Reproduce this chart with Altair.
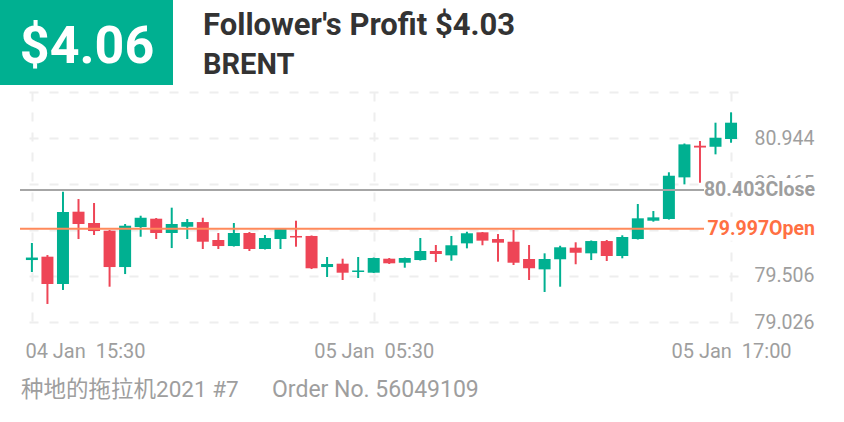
import altair as alt
import pandas as pd

# ---- data ----
idx = list(range(46))
opens = [79.672, 79.707, 79.422, 80.176, 80.058, 79.978, 79.599, 80.016, 80.103, 79.954,
         80.019, 80.068, 79.881, 79.818, 79.954, 79.787, 79.891, 79.923, 79.923, 79.599,
         79.634, 79.547, 79.540, 79.686, 79.644, 79.672, 79.766, 79.721, 79.846, 79.961,
         79.891, 79.863, 79.683, 79.575, 79.680, 79.801, 79.742, 79.870, 79.714, 79.891,
         80.082, 80.100, 80.534, 80.864, 80.853, 80.934]
highs = [79.850, 79.724, 80.384, 80.308, 80.267, 79.985, 80.048, 80.134, 80.110, 80.218,
         80.100, 80.113, 79.954, 80.058, 79.964, 79.933, 80.000, 80.082, 79.928, 79.704,
         79.686, 79.704, 79.698, 79.693, 79.698, 79.902, 79.829, 79.923, 79.967, 79.964,
         79.943, 79.985, 79.829, 79.742, 79.821, 79.857, 79.876, 79.881, 79.930, 80.256,
         80.183, 80.587, 80.887, 80.913, 81.104, 81.212]
lows = [79.547, 79.214, 79.360, 79.891, 79.933, 79.394, 79.526, 79.915, 79.891, 79.797,
        79.891, 79.787, 79.787, 79.813, 79.766, 79.782, 79.787, 79.811, 79.578, 79.495,
        79.464, 79.485, 79.537, 79.631, 79.592, 79.667, 79.651, 79.665, 79.794, 79.826,
        79.655, 79.620, 79.464, 79.339, 79.394, 79.628, 79.672, 79.662, 79.690, 79.886,
        80.072, 80.094, 80.461, 80.478, 80.774, 80.895]
closes = [79.698, 79.422, 80.173, 80.048, 79.975, 79.599, 80.030, 80.113, 79.954, 80.048,
          80.068, 79.863, 79.818, 79.954, 79.787, 79.902, 79.995, 79.907, 79.586, 79.631,
          79.540, 79.563, 79.693, 79.638, 79.693, 79.766, 79.735, 79.826, 79.951, 79.874,
          79.853, 79.644, 79.586, 79.683, 79.805, 79.748, 79.870, 79.714, 79.912, 80.107,
          80.117, 80.551, 80.878, 80.845, 80.947, 81.104]

y_ticks = [79.026, 79.506, 79.985, 80.465, 80.944, 81.424]
y_hidden = [79.985, 81.424]
x_tick_pos = [0, 22, 45]
x_tick_labels = ["04 Jan\u00a0 15:30", "05 Jan\u00a0 05:30", "05 Jan\u00a0 17:00"]

close_level = 80.403
open_level = 79.997

profit_badge = "$4.06"
title_text = "Follower's Profit $4.03"
symbol_text = "BRENT"
footer_left = "种地的拖拉机2021 #7"
footer_right = "Order No. 56049109"

GREEN = "#00B091"
RED = "#EE4556"
GRAY = "#9E9E9E"
ORANGE = "#FF7043"
ORANGE_LINE = "#FF8A5B"
FONT = "Roboto"

df = pd.DataFrame({"i": idx, "open": opens, "high": highs, "low": lows, "close": closes})
df["dir"] = ["up" if c >= o else "down" for o, c in zip(opens, closes)]

x_label_expr = " : ".join(
    f"datum.value == {p} ? '{l}'" for p, l in zip(x_tick_pos[:-1], x_tick_labels[:-1])
) + f" : '{x_tick_labels[-1]}'"
hide_test = " || ".join(f"abs(datum.value - {h}) < 0.001" for h in y_hidden)
y_label_expr = f"({hide_test}) ? '' : format(datum.value, '.3f')"

xscale = alt.Scale(domain=[-0.444, 45.126], nice=False, zero=False)
yscale = alt.Scale(domain=[y_ticks[0], y_ticks[-1]], nice=False, zero=False)

x_axis = alt.Axis(
    values=x_tick_pos, labelExpr=x_label_expr, title=None, grid=True,
    gridDash=[9, 11], gridColor="#EEEEEE", gridWidth=2, domain=False, ticks=False,
    tickSize=0, labelFont=FONT, labelFontSize=20, labelColor=GRAY,
    labelBaseline="alphabetic", labelPadding=35, labelFlush=False, labelOverlap=False,
    labelAlign={"condition": {"test": "datum.value == 0", "value": "left"}, "value": "center"},
    labelOffset={"condition": {"test": "datum.value == 0", "value": -7}, "value": 0},
)
y_axis = alt.Axis(
    values=y_ticks, orient="right", title=None, grid=True, gridDash=[9, 11],
    gridColor="#EEEEEE", gridWidth=2, domain=False, ticks=False, tickSize=0,
    labelFont=FONT, labelFontSize=19.5, labelColor=GRAY, labelBaseline="middle",
    labelAlign="left", labelPadding=16, labelFlush=False, labelOverlap=False,
    labelExpr=y_label_expr,
)

color = alt.Color("dir:N", scale=alt.Scale(domain=["up", "down"], range=[GREEN, RED]), legend=None)
base = alt.Chart(df)

wicks = base.mark_rule(strokeWidth=2).encode(
    x=alt.X("i:Q", scale=xscale, axis=x_axis),
    y=alt.Y("low:Q", scale=yscale, axis=y_axis),
    y2="high:Q",
    color=color,
)
bodies = base.mark_bar(size=12).encode(
    x=alt.X("i:Q", scale=xscale, axis=x_axis),
    y=alt.Y("open:Q", scale=yscale, axis=y_axis),
    y2="close:Q",
    color=color,
)

lv = pd.DataFrame({"v": [close_level, open_level], "name": ["Close", "Open"],
                   "label": [f"{close_level:.3f}Close", f"{open_level:.3f}Open"]})
close_df = lv[lv.name == "Close"]
open_df = lv[lv.name == "Open"]

yv = alt.Y("v:Q", scale=yscale, axis=y_axis)
close_line = alt.Chart(close_df).mark_rule(color="#A6A6A6", strokeWidth=2).encode(
    x=alt.value(0), x2=alt.value(684), y=yv)
open_line = alt.Chart(open_df).mark_rule(color=ORANGE_LINE, strokeWidth=2).encode(
    x=alt.value(0), x2=alt.value(687), y=yv)
label_bg = alt.Chart(lv).mark_rule(color="white", strokeWidth=24).encode(
    x=alt.value(684), x2=alt.value(800), y=yv)
close_text = alt.Chart(close_df).mark_text(
    align="right", baseline="middle", font=FONT, fontSize=19.5, fontWeight="bold", color=GRAY
).encode(x=alt.value(795), y=yv, text="label:N")
open_text = alt.Chart(open_df).mark_text(
    align="right", baseline="middle", font=FONT, fontSize=19.5, fontWeight="bold", color=ORANGE
).encode(x=alt.value(795), y=yv, text="label:N")

one = pd.DataFrame({"badge": [profit_badge], "title": [title_text], "sym": [symbol_text],
                    "f1": [footer_left], "f2": [footer_right]})
hdr = alt.Chart(one)
badge_box = hdr.mark_rect(color=GREEN).encode(
    x=alt.value(-20), x2=alt.value(153), y=alt.value(-92), y2=alt.value(-7))
badge_txt = hdr.mark_text(align="center", baseline="alphabetic", font=FONT, fontSize=52,
                          fontWeight="bold", color="white").encode(
    x=alt.value(67), y=alt.value(-29), text="badge:N")
title_txt = hdr.mark_text(align="left", baseline="alphabetic", font=FONT, fontSize=31,
                          fontWeight="bold", color="#333333").encode(
    x=alt.value(183), y=alt.value(-57), text="title:N")
sym_txt = hdr.mark_text(align="left", baseline="alphabetic", font=FONT, fontSize=29,
                        fontWeight="bold", color="#333333").encode(
    x=alt.value(183), y=alt.value(-18), text="sym:N")
foot1 = hdr.mark_text(align="left", baseline="alphabetic", font="Roboto, 'Noto Sans CJK SC'",
                      fontSize=22.5, color=GRAY).encode(
    x=alt.value(1), y=alt.value(305), text="f1:N")
foot2 = hdr.mark_text(align="left", baseline="alphabetic", font=FONT,
                      fontSize=23, color=GRAY).encode(
    x=alt.value(252), y=alt.value(305), text="f2:N")

chart = alt.layer(
    wicks, bodies, close_line, open_line, label_bg, close_text, open_text,
    badge_box, badge_txt, title_txt, sym_txt, foot1, foot2,
).properties(
    width=718, height=230,
    padding={"left": 20, "top": 92, "right": 106, "bottom": 100},
    autosize=alt.AutoSizeParams(type="none"),
    background="white",
).configure_view(stroke=None)

chart.save("out.html", embed_options={"renderer": "svg", "actions": False})
